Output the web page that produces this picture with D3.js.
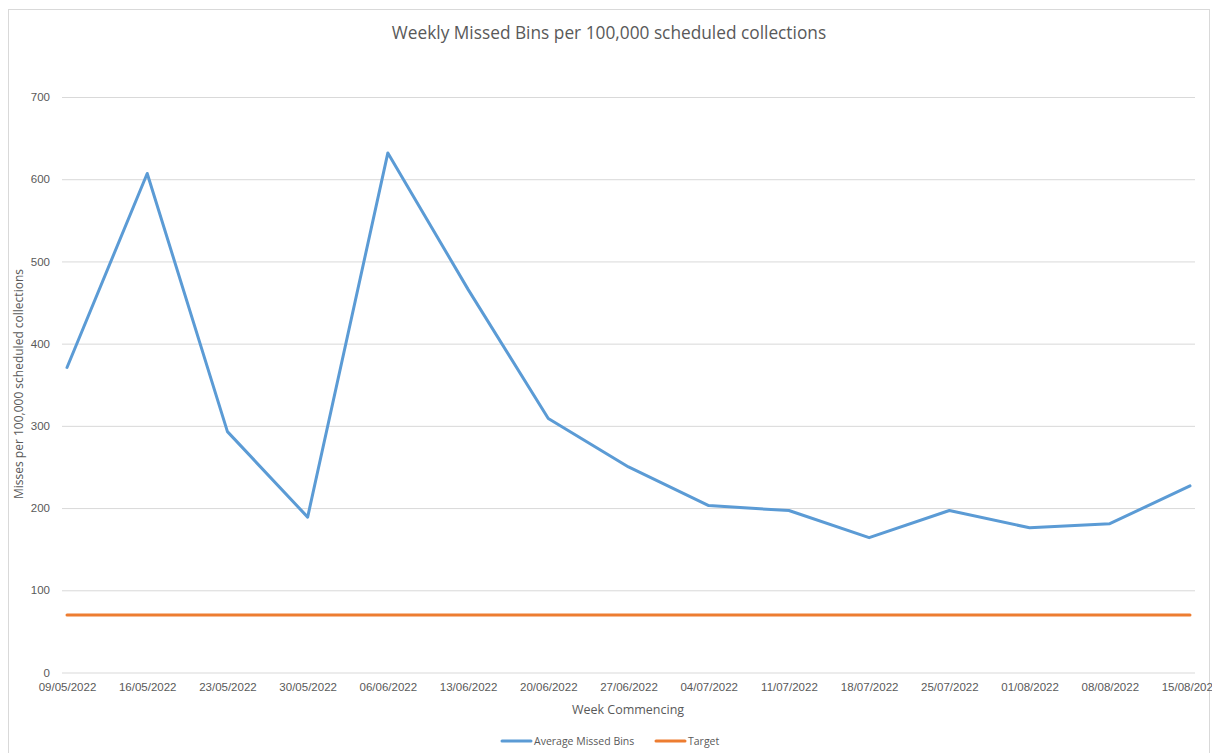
<!DOCTYPE html>
<html>
<head>
<meta charset="utf-8">
<script src="https://cdn.jsdelivr.net/npm/d3@7"></script>
<style>
  html, body { margin: 0; padding: 0; background: #fff; }
  svg { display: block; font-family: "Open Sans", "Liberation Sans", sans-serif; }
</style>
</head>
<body>
<svg id="chart" width="1212" height="753"></svg>
<script>
const weeks = ["09/05/2022","16/05/2022","23/05/2022","30/05/2022","06/06/2022","13/06/2022","20/06/2022","27/06/2022","04/07/2022","11/07/2022","18/07/2022","25/07/2022","01/08/2022","08/08/2022","15/08/2022"];
const missedBins = [371, 607, 293, 189, 632, 466, 309, 250, 203, 197, 164, 197, 176, 181, 227];
const target = [70, 70, 70, 70, 70, 70, 70, 70, 70, 70, 70, 70, 70, 70, 70];
const yTicks = [0, 100, 200, 300, 400, 500, 600, 700];
const seriesNames = ["Average Missed Bins", "Target"];
const titleText = "Weekly Missed Bins per 100,000 scheduled collections";
const xTitle = "Week Commencing";
const yTitle = "Misses per 100,000 scheduled collections";

const svg = d3.select("#chart");
const textColor = "#595959";
const gridColor = "#d9d9d9";
const colors = ["#5B9BD5", "#ED7D31"];

// chart border
svg.append("rect").attr("x", 8.5).attr("y", 9.5).attr("width", 1201).attr("height", 760)
  .attr("fill", "#fff").attr("stroke", gridColor).attr("stroke-width", 1);

const plotLeft = 62, plotRight = 1195;
const x = d3.scalePoint().domain(weeks).range([67, 1190]);
const y = d3.scaleLinear().domain([0, 700]).range([672.5, 97]);

// y axis + gridlines
const yAxis = svg.append("g").attr("transform", `translate(${plotLeft},0)`)
  .call(d3.axisLeft(y).tickValues(yTicks).tickSize(-(plotRight - plotLeft)).tickPadding(12).tickFormat(d3.format("d")));
yAxis.select(".domain").remove();
yAxis.selectAll(".tick line").attr("stroke", gridColor).attr("stroke-width", 1);
yAxis.selectAll(".tick text").attr("fill", textColor).style("font-size", "11.5px");

// x axis
const xAxis = svg.append("g").attr("transform", `translate(0,${y(0)})`)
  .call(d3.axisBottom(x).tickSize(0).tickPadding(10));
xAxis.select(".domain").remove();
xAxis.selectAll(".tick text").attr("fill", textColor).style("font-size", "11.5px");

// lines
const line = d3.line().x((d, i) => x(weeks[i])).y(d => y(d));
[missedBins, target].forEach((s, k) => {
  svg.append("path").datum(s).attr("d", line)
    .attr("fill", "none").attr("stroke", colors[k]).attr("stroke-width", 3)
    .attr("stroke-linejoin", "round").attr("stroke-linecap", "round");
});

// title
svg.append("text").attr("x", 609).attr("y", 39).attr("text-anchor", "middle")
  .attr("fill", textColor).style("font-size", "17.3px").text(titleText);

// axis titles
svg.append("text").attr("x", 628).attr("y", 714).attr("text-anchor", "middle")
  .attr("fill", textColor).style("font-size", "12.5px").text(xTitle);
svg.append("text").attr("transform", "translate(23,384) rotate(-90)").attr("text-anchor", "middle")
  .attr("fill", textColor).style("font-size", "12px").text(yTitle);

// legend
const legendItems = [
  { name: seriesNames[0], color: colors[0], x0: 502 },
  { name: seriesNames[1], color: colors[1], x0: 656 }
];
legendItems.forEach(it => {
  svg.append("line").attr("x1", it.x0).attr("x2", it.x0 + 29).attr("y1", 741).attr("y2", 741)
    .attr("stroke", it.color).attr("stroke-width", 3).attr("stroke-linecap", "round");
  svg.append("text").attr("x", it.x0 + 32).attr("y", 745).attr("fill", textColor)
    .style("font-size", "10.5px").text(it.name);
});
</script>
</body>
</html>
